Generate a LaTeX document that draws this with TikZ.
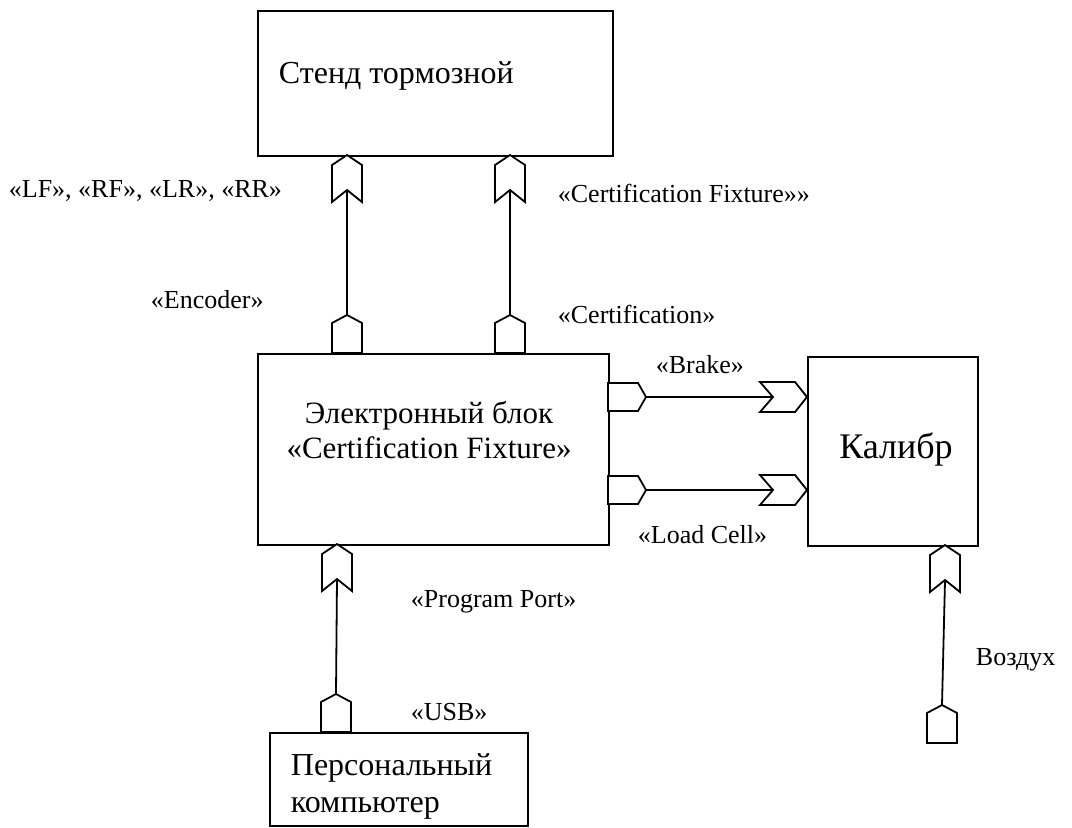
\documentclass[tikz,border=0pt]{standalone}
\usepackage{fontspec}
\setmainfont{Liberation Serif}
\begin{document}
\begin{tikzpicture}[x=1pt,y=-1pt,line width=1.8pt,
  box/.style={draw,rectangle,inner sep=0pt,anchor=north west},
  lbl/.style={anchor=base west,inner sep=0pt,font=\fontsize{26}{30}\selectfont},
  big/.style={anchor=base west,inner sep=0pt,font=\fontsize{32}{37}\selectfont},
  conn/.style={draw,line width=1.8pt},
  portup/.pic={\draw[fill=white,line join=miter] (-15,0)--(-15,-30)--(0,-38)--(15,-30)--(15,0)--cycle;
     \coordinate (-tip) at (0,-38);},
  portright/.pic={\draw[fill=white,line join=miter] (0,-14)--(30,-14)--(38,0)--(30,14)--(0,14)--cycle;
     \coordinate (-tip) at (38,0);},
  chevup/.pic={\draw[fill=white,line join=miter] (0,0)--(15,10)--(15,47)--(0,35)--(-15,47)--(-15,10)--cycle;
     \coordinate (-notch) at (0,35);},
  chevright/.pic={\draw[fill=white,line join=miter] (0,0)--(-12,-15)--(-47,-15)--(-34,0)--(-47,15)--(-12,15)--cycle;
     \coordinate (-notch) at (-34,0);}
]
\useasboundingbox (0,0) rectangle (1072,828);

% boxes
\node[box,minimum width=355pt,minimum height=145pt] (stend) at (257,10) {};
\node[box,minimum width=351pt,minimum height=191pt] (eblock) at (257,353) {};
\node[box,minimum width=170pt,minimum height=189pt] (kalibr) at (807,356) {};
\node[box,minimum width=258pt,minimum height=93pt] (pc) at (269,732) {};

% box texts
\node[big] (tstend) at (278,83) {Стенд тормозной};
\node[anchor=base,inner sep=0pt,font=\fontsize{31}{36}\selectfont] (teb1) at (429,423) {Электронный блок};
\node[anchor=base,inner sep=0pt,font=\fontsize{31}{36}\selectfont] (teb2) at (429,458) {«Certification Fixture»};
\node[anchor=base,inner sep=0pt,font=\fontsize{36}{40}\selectfont] (tkal) at (896,458) {Калибр};
\node[big] (tpc1) at (290,775) {Персональный};
\node[big] (tpc2) at (290,812) {компьютер};

% connectors
\draw[conn] (347,315) coordinate (enc-tip) -- (347,190) coordinate (s1-notch);
\draw[conn] (510,315) coordinate (cer-tip) -- (510,190) coordinate (s2-notch);
\draw[conn] (646,397) coordinate (brk-tip) -- (773,397) coordinate (k1-notch);
\draw[conn] (646,490) coordinate (ld-tip) -- (773,490) coordinate (k2-notch);
\draw[conn] (336,694) coordinate (usb-tip) -- (337,579) coordinate (eb-notch);
\draw[conn] (942,705) coordinate (air-tip) -- (945,581) coordinate (kb-notch);

% ports
\pic (s1) at (347,155) {chevup};
\pic (s2) at (510,155) {chevup};
\pic (enc) at (347,353) {portup};
\pic (cer) at (510,353) {portup};
\pic (brk) at (608,397) {portright};
\pic (ld) at (608,490) {portright};
\pic (k1) at (807,397) {chevright};
\pic (k2) at (807,490) {chevright};
\pic (eb) at (337,544) {chevup};
\pic (usb) at (336,732) {portup};
\pic (kb) at (945,545) {chevup};
\pic (air) at (942,743) {portup};

% labels
\node[lbl] (l1) at (8,197) {«LF», «RF», «LR», «RR»};
\node[lbl] (l2) at (557,202) {«Certification Fixture»»};
\node[lbl] (l3) at (150,308) {«Encoder»};
\node[lbl] (l4) at (557,323) {«Certification»};
\node[lbl] (l5) at (655,373) {«Brake»};
\node[lbl] (l6) at (637,543) {«Load Cell»};
\node[lbl] (l7) at (410,607) {«Program Port»};
\node[lbl] (l8) at (410,720) {«USB»};
\node[lbl] (l9) at (975,665) {Воздух};
\end{tikzpicture}
\end{document}
